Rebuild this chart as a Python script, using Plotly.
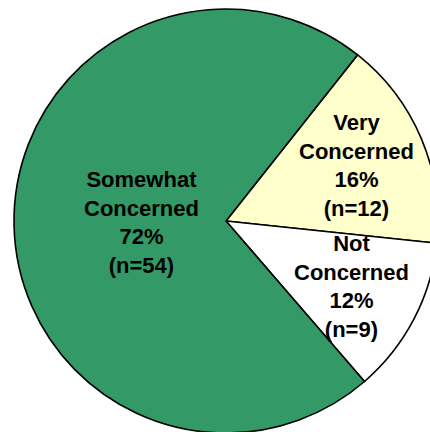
import math
import plotly.graph_objects as go

labels = ["Very Concerned", "Not Concerned", "Somewhat Concerned"]
counts = [12, 9, 54]
colors = ["#FFFFCC", "#FFFFFF", "#339966"]
label_radius = [0.67, 0.67, 0.40]

start_angle = 38.4  # degrees clockwise from 12 o'clock

W, H = 452, 442
ML, MR, MT, MB = 14, 14, 9, 9

fig = go.Figure(go.Pie(
    labels=labels,
    values=counts,
    sort=False,
    direction="clockwise",
    rotation=start_angle,
    marker=dict(colors=colors, line=dict(color="black", width=1.6)),
    textinfo="none",
    hoverinfo="label+percent+value",
    domain=dict(x=[0, 1], y=[0, 1]),
))

total = sum(counts)
pw, ph = W - ML - MR, H - MT - MB
r = min(pw, ph) / 2
cx, cy = pw / 2, ph / 2
angle = start_angle
annotations = []
for lab, v, f in zip(labels, counts, label_radius):
    span = 360 * v / total
    mid = math.radians(angle + span / 2)
    angle += span
    px = cx + f * r * math.sin(mid)
    py = cy - f * r * math.cos(mid)
    pct = round(100 * v / total)
    text = "<br>".join(lab.split(" ")) + f"<br>{pct}%<br>(n={v})"
    annotations.append(dict(
        x=px / pw, y=1 - py / ph, xref="paper", yref="paper",
        text=text, showarrow=False, xanchor="center", yanchor="middle",
        font=dict(family="Liberation Sans, Arial, sans-serif", size=22,
                  color="black", weight="bold"),
        align="center",
    ))

fig.update_layout(
    width=W, height=H,
    margin=dict(l=ML, r=MR, t=MT, b=MB, pad=0),
    showlegend=False,
    paper_bgcolor="white",
    plot_bgcolor="white",
    annotations=annotations,
)

fig.write_html(
    "out.html",
    config={"displayModeBar": False},
    post_script="document.body.style.margin='0';document.body.style.overflow='hidden';",
)
